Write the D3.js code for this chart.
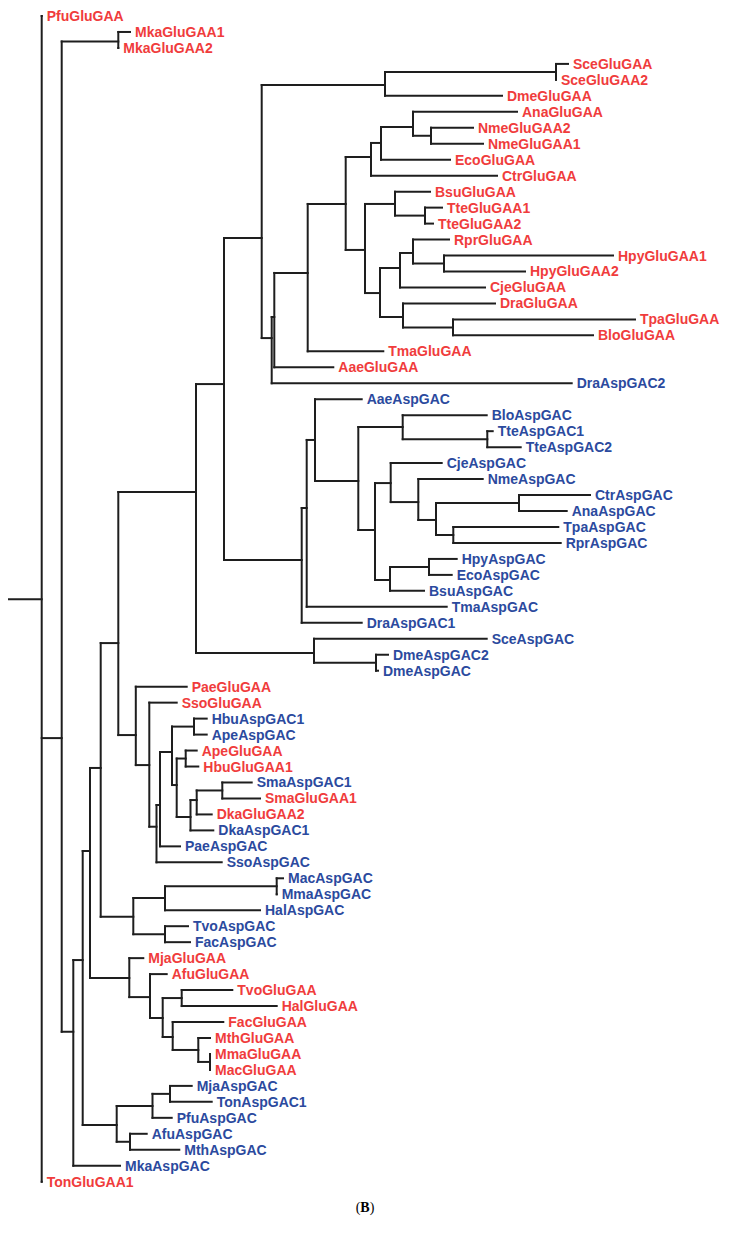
<!DOCTYPE html>
<html>
<head>
<meta charset="utf-8">
<script src="https://cdn.jsdelivr.net/npm/d3@7"></script>
<style>
  html, body { margin: 0; padding: 0; background: #ffffff; }
  svg { display: block; }
</style>
</head>
<body>
<div id="chart"></div>
<script>
// ---- Leaves (top to bottom), their parent node and cumulative branch depth ----
const leafNames = [
  "PfuGluGAA","MkaGluGAA1","MkaGluGAA2","SceGluGAA","SceGluGAA2","DmeGluGAA","AnaGluGAA",
  "NmeGluGAA2","NmeGluGAA1","EcoGluGAA","CtrGluGAA","BsuGluGAA","TteGluGAA1","TteGluGAA2",
  "RprGluGAA","HpyGluGAA1","HpyGluGAA2","CjeGluGAA","DraGluGAA","TpaGluGAA","BloGluGAA",
  "TmaGluGAA","AaeGluGAA","DraAspGAC2","AaeAspGAC","BloAspGAC","TteAspGAC1","TteAspGAC2",
  "CjeAspGAC","NmeAspGAC","CtrAspGAC","AnaAspGAC","TpaAspGAC","RprAspGAC","HpyAspGAC",
  "EcoAspGAC","BsuAspGAC","TmaAspGAC","DraAspGAC1","SceAspGAC","DmeAspGAC2","DmeAspGAC",
  "PaeGluGAA","SsoGluGAA","HbuAspGAC1","ApeAspGAC","ApeGluGAA","HbuGluGAA1","SmaAspGAC1",
  "SmaGluGAA1","DkaGluGAA2","DkaAspGAC1","PaeAspGAC","SsoAspGAC","MacAspGAC","MmaAspGAC",
  "HalAspGAC","TvoAspGAC","FacAspGAC","MjaGluGAA","AfuGluGAA","TvoGluGAA","HalGluGAA",
  "FacGluGAA","MthGluGAA","MmaGluGAA","MacGluGAA","MjaAspGAC","TonAspGAC1","PfuAspGAC",
  "AfuAspGAC","MthAspGAC","MkaAspGAC","TonGluGAA1"
];
const leafParents = [
  "root","NMka","NMka","NSce","NSce","N385","N413",
  "N431","N431","N381","N371","N395","NTte","NTte",
  "N413b","NHpy","NHpy","N400","N403","NTpa","NTpa",
  "N308","NQ","NP","N315","N403b","NTteA","NTteA",
  "N391","N418","N519","N519","N453","N453","N429",
  "N429","N390","N306","N301","N313","NDme","NDme",
  "N135","N149","NHbuA","NHbuA","NApeG","NApeG","NSma",
  "NSma","N197","NSD","N160","N156","NMac","NMac",
  "NHal","NTvoA","NTvoA","N129","N150","NTvoG","NTvoG",
  "N173","N198","NMma","NMma","N170","N170","N153",
  "N130","N130","N73","root"
];
const leafDepths = [
  0.000,0.883,0.766,5.263,5.143,4.603,4.753,
  4.313,4.413,4.083,4.553,3.883,4.003,3.913,
  4.073,5.713,4.833,4.433,4.533,5.933,5.513,
  3.416,2.916,5.300,3.200,4.450,4.510,4.790,
  4.000,4.410,5.483,5.250,5.166,5.190,4.150,
  4.100,3.823,4.050,3.200,4.450,3.463,3.363,
  1.450,1.350,1.650,1.650,1.550,1.566,2.100,
  2.183,1.700,1.716,1.383,1.800,2.413,2.350,
  2.183,1.463,1.483,1.016,1.250,1.906,2.350,
  1.816,1.683,1.683,1.683,1.500,1.700,1.300,
  1.050,1.376,0.783,0.000
];

// ---- Internal nodes: id, parent, cumulative depth, vertical position (in leaf rows) ----
const nodeIds = [
  "root","N61","NMka","N73","N83","N90","N100","N118","N196","N224","N262","N385","NSce",
  "NP","NQ","N308","N346","N371","N381","N413","N431","N365","N395","NTte","N380","N400",
  "N413b","NHpy","N403","NTpa","N301","N306","N315","N358","N403b","NTteA","N375","N391",
  "N418","N436","N519","N453","N390","N429","N313","NDme","N135","N149","N156","N160",
  "N172","NHbuA","N177","NApeG","NSD","N197","NSma","N133","NHal","NMac","NTvoA","N129",
  "N150","N163","NTvoG","N173","N198","NMma","N117","N153","N170","N130"
];
const nodeParents = [
  "","root","N61","N61","N73","N83","N90","N100","N118","N196","N224","N262","N385",
  "N262","NP","NQ","N308","N346","N371","N381","N413","N346","N365","N395","N365","N380",
  "N400","N413b","N380","N403","N224","N301","N306","N315","N358","N403b","N358","N375",
  "N391","N418","N436","N436","N375","N390","N196","N313","N118","N135","N149","N156",
  "N160","N172","N172","N177","N177","NSD","N197","N100","N133","NHal","N133","N90",
  "N129","N150","N163","N163","N173","N198","N83","N117","N153","N117"
];
const nodeDepths = [
  0.000,0.200,0.766,0.316,0.410,0.483,0.590,0.766,1.543,1.823,2.200,3.433,5.143,
  2.300,2.326,2.660,3.040,3.293,3.393,3.713,3.893,3.233,3.533,3.833,3.383,3.583,
  3.713,4.023,3.613,4.113,2.600,2.650,2.733,3.166,3.610,4.456,3.333,3.490,
  3.766,3.943,4.773,4.116,3.483,3.873,2.723,3.343,0.941,1.076,1.148,1.183,
  1.303,1.523,1.350,1.440,1.488,1.550,1.806,0.916,1.233,2.350,1.233,0.876,
  1.083,1.210,1.400,1.310,1.566,1.683,0.750,1.108,1.283,0.883
];
const nodeRows = [
  36.53,45.22,1.60,63.61,59.12,52.29,47.09,39.27,29.81,23.05,13.90,4.32,3.50,
  20.17,18.85,16.09,11.77,8.83,7.95,6.95,7.50,14.65,11.77,12.50,17.35,15.78,
  14.84,15.50,18.85,19.50,34.07,30.81,26.55,29.12,25.74,26.50,32.19,29.25,
  30.44,31.56,30.50,32.50,35.32,34.50,39.89,40.50,45.03,46.91,50.77,49.41,
  46.09,44.50,48.16,46.50,50.16,49.10,48.50,56.41,55.24,54.50,57.50,60.24,
  61.44,62.75,61.50,63.94,64.75,65.50,69.45,68.26,67.50,70.50
];
const rootStem = 0.327;           // length of the stub drawn left of the root
const depthTicks = [0, 6];        // depth domain of the drawing
const rowDomain = [0, 73];        // first and last leaf row
const panelLabel = "B";

// ---- Build hierarchy ----
const table = nodeIds.map((id, i) => ({
  id, parentId: nodeParents[i] || null, depth: nodeDepths[i], row: nodeRows[i], leaf: false
})).concat(leafNames.map((id, i) => ({
  id, parentId: leafParents[i], depth: leafDepths[i], row: i, leaf: true
})));
const root = d3.stratify().id(d => d.id).parentId(d => d.parentId)(table);

const W = 731, H = 1233;
const x = d3.scaleLinear().domain(depthTicks).range([41.7, 641.7]);
const y = d3.scaleLinear().domain(rowDomain).range([16, 1181.7]);

const svg = d3.select("#chart").append("svg")
  .attr("width", W).attr("height", H)
  .attr("viewBox", `0 0 ${W} ${H}`);

svg.append("rect").attr("width", W).attr("height", H).attr("fill", "#ffffff");

const g = svg.append("g")
  .attr("fill", "none")
  .attr("stroke", "#1e1e1e")
  .attr("stroke-width", 2)
  .attr("stroke-linecap", "square");

// root stub
g.append("path")
  .attr("d", `M${x(-rootStem)},${y(root.data.row)}H${x(root.data.depth)}`);

// horizontal branches
g.selectAll("path.h")
  .data(root.descendants().filter(d => d.parent))
  .join("path")
  .attr("class", "h")
  .attr("d", d => `M${x(d.parent.data.depth)},${y(d.data.row)}H${x(d.data.depth)}`);

// vertical connectors
g.selectAll("path.v")
  .data(root.descendants().filter(d => d.children))
  .join("path")
  .attr("class", "v")
  .attr("d", d => {
    const rows = d.children.map(c => c.data.row).concat([d.data.row]);
    return `M${x(d.data.depth)},${y(d3.min(rows))}V${y(d3.max(rows))}`;
  });

// leaf labels
const color = name => name.includes("Glu") ? "#f03c3c" : "#2b4a9e";
svg.append("g")
  .selectAll("text")
  .data(root.leaves())
  .join("text")
  .attr("x", d => x(d.data.depth) + 5)
  .attr("y", d => y(d.data.row) + 5)
  .attr("font-family", "'Liberation Sans', Arial, sans-serif")
  .attr("font-weight", "bold")
  .attr("font-size", 14)
  .attr("fill", d => color(d.id))
  .text(d => d.id);

// panel label
const pl = svg.append("text")
  .attr("x", 365).attr("y", 1212)
  .attr("text-anchor", "middle")
  .attr("font-family", "'Liberation Serif', 'Times New Roman', serif")
  .attr("font-size", 14)
  .attr("fill", "#000");
pl.append("tspan").text("(");
pl.append("tspan").attr("font-weight", "bold").text(panelLabel);
pl.append("tspan").text(")");
</script>
</body>
</html>
